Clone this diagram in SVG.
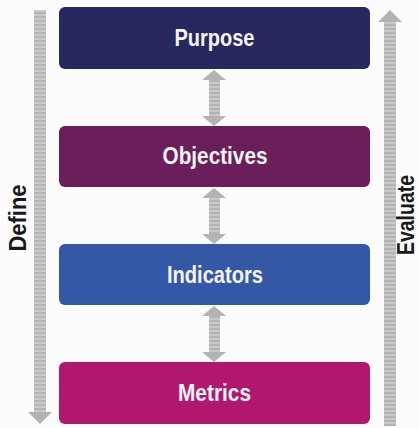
<svg xmlns="http://www.w3.org/2000/svg" width="419" height="428" viewBox="0 0 419 428">
<defs>
<pattern id="stripes" patternUnits="userSpaceOnUse" width="12" height="4">
<rect x="0" y="0" width="12" height="4" fill="#c9c9c9"/>
<rect x="0" y="0" width="12" height="2" fill="#b4b4b4"/>
</pattern>
<style>
.box{stroke:none}
.lbl{font-family:"Liberation Sans Narrow","Liberation Sans",Arial,sans-serif;font-weight:bold;font-size:23px;fill:#f4f4f4;text-anchor:middle}
.side{font-family:"Liberation Sans Narrow","Liberation Sans",Arial,sans-serif;font-weight:bold;font-size:23px;fill:#1a1a1a;text-anchor:middle}
.shaft{fill:url(#stripes)}
.head{fill:#b3b3b3}
</style>
</defs>
<rect x="0" y="0" width="419" height="428" fill="#fcfcfc"/>
<g id="connectors">
<g id="define-arrow">
<rect class="shaft" x="34" y="10" width="12" height="403"/>
<polygon class="head" points="28,412 52,412 40,424"/>
<text class="side" transform="translate(26,218) rotate(-90)" textLength="67" lengthAdjust="spacingAndGlyphs">Define</text>
</g>
<g id="evaluate-arrow">
<rect class="shaft" x="384" y="21" width="12" height="405"/>
<polygon class="head" points="378,22 402,22 390,10"/>
<text class="side" transform="translate(414,215) rotate(-90)" textLength="80" lengthAdjust="spacingAndGlyphs">Evaluate</text>
</g>
<g id="purpose-objectives">
<rect class="shaft" x="209" y="79" width="11" height="38"/>
<polygon class="head" points="202,80 226,80 214,70"/>
<polygon class="head" points="202,116 226,116 214,126"/>
</g>
<g id="objectives-indicators">
<rect class="shaft" x="209" y="197" width="11" height="38"/>
<polygon class="head" points="202,198 226,198 214,188"/>
<polygon class="head" points="202,234 226,234 214,244"/>
</g>
<g id="indicators-metrics">
<rect class="shaft" x="209" y="315" width="11" height="38"/>
<polygon class="head" points="202,316 226,316 214,306"/>
<polygon class="head" points="202,352 226,352 214,362"/>
</g>
</g>
<g id="purpose">
<rect class="box" x="59" y="7" width="311" height="62" rx="6" fill="#27285e"/>
<text class="lbl" x="214.5" y="46" textLength="80" lengthAdjust="spacingAndGlyphs">Purpose</text>
</g>
<g id="objectives">
<rect class="box" x="59" y="126" width="311" height="61" rx="6" fill="#6a1f5b"/>
<text class="lbl" x="215" y="164" textLength="105" lengthAdjust="spacingAndGlyphs">Objectives</text>
</g>
<g id="indicators">
<rect class="box" x="59" y="244" width="311" height="61" rx="6" fill="#3458a6"/>
<text class="lbl" x="215" y="283" textLength="96" lengthAdjust="spacingAndGlyphs">Indicators</text>
</g>
<g id="metrics">
<rect class="box" x="59" y="362" width="311" height="62" rx="6" fill="#b0186e"/>
<text class="lbl" x="214.5" y="401" textLength="73" lengthAdjust="spacingAndGlyphs">Metrics</text>
</g>
</svg>
